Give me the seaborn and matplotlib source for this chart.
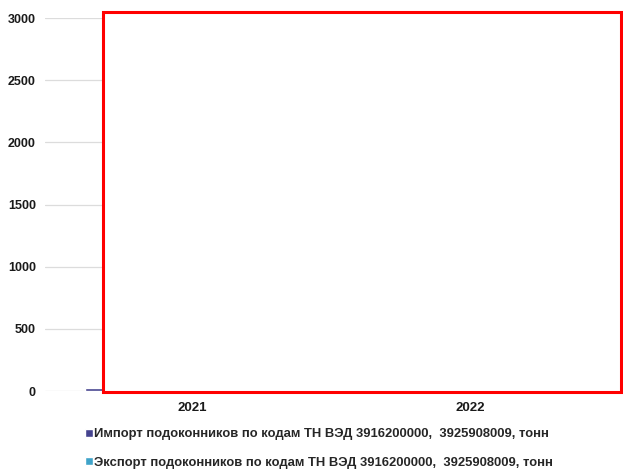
import matplotlib
matplotlib.use("Agg")
import matplotlib.pyplot as plt
from matplotlib.patches import Rectangle
import seaborn as sns
import pandas as pd

# Годовые объёмы, тонн
years = ["2021", "2022"]
import_tons = [25, 2750]
export_tons = [2300, 1700]
series_names = [
    "Импорт подоконников по кодам ТН ВЭД 3916200000,  3925908009, тонн",
    "Экспорт подоконников по кодам ТН ВЭД 3916200000,  3925908009, тонн",
]
y_ticks = [0, 500, 1000, 1500, 2000, 2500, 3000]

colors = ["#45438f", "#3fa3c9"]

df = pd.DataFrame({
    "year": years * 2,
    "tons": import_tons + export_tons,
    "series": [series_names[0]] * len(years) + [series_names[1]] * len(years),
})

sns.set_theme(style="white")
plt.rcParams["font.family"] = ["Liberation Sans Narrow", "Liberation Sans", "DejaVu Sans"]

fig = plt.figure(figsize=(6.23, 4.75), dpi=100)
ax = fig.add_axes([45 / 623, 1 - 391 / 475, 575 / 623, 373 / 475])

sns.barplot(data=df, x="year", y="tons", hue="series", palette=colors,
            width=0.77, ax=ax, saturation=1, legend=True)

ax.set_xlim(-0.529, 1.54)
ax.set_ylim(0, 3000)
ax.set_yticks(y_ticks)
ax.set_yticklabels([str(t) for t in y_ticks], fontsize=9, fontweight="bold",
                   color="#1a1a1a")
ax.tick_params(axis="x", labelsize=9.5, length=0, pad=8)
for lbl in ax.get_xticklabels():
    lbl.set_fontweight("bold")
    lbl.set_color("#1a1a1a")
ax.tick_params(axis="y", length=0, pad=6.5)
ax.yaxis.grid(True, color="#dcdcdc", linewidth=0.9)
ax.set_axisbelow(True)
for s in ax.spines.values():
    s.set_visible(False)
ax.set_xlabel("")
ax.set_ylabel("")

handles, labels = ax.get_legend_handles_labels()
ax.get_legend().remove()
fig.legend(handles, labels, loc="upper left", bbox_to_anchor=(0.136, 0.098),
           frameon=False, prop={"size": 9.4, "weight": "bold"},
           handlelength=0.6, handleheight=0.6, handletextpad=0.1,
           labelspacing=1.25, borderaxespad=0, borderpad=0)

# Белая рамка с красным контуром поверх области столбцов
fig.patches.append(Rectangle((103 / 623, 1 - 392 / 475), 518 / 623, 380 / 475,
                             transform=fig.transFigure, facecolor="white",
                             edgecolor="#ff0000", linewidth=2.2, zorder=10))

fig.savefig("out.png", dpi=100, facecolor="white")
